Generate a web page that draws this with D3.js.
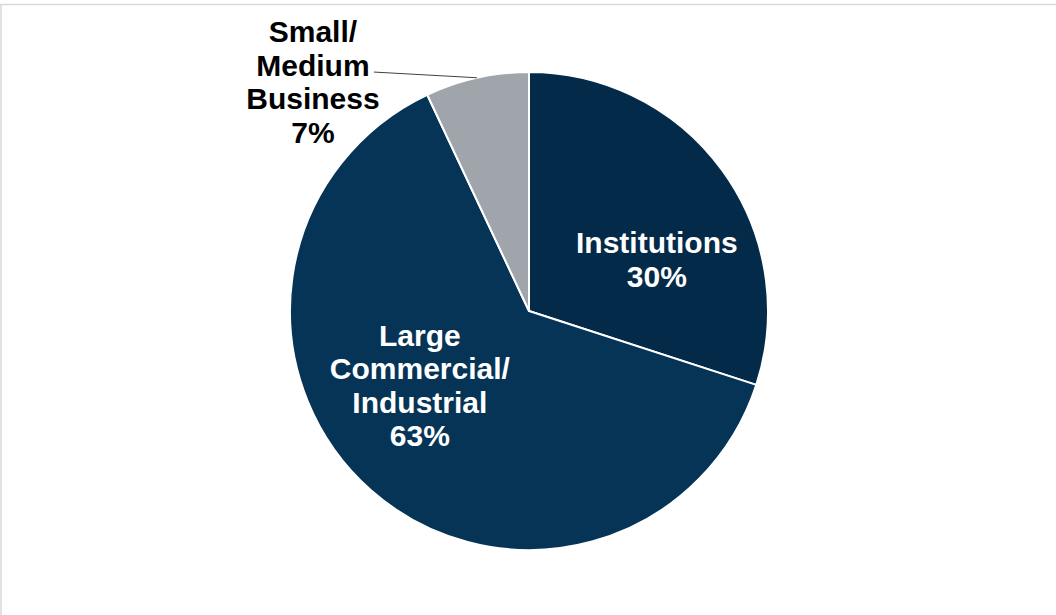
<!DOCTYPE html>
<html>
<head>
<meta charset="utf-8">
<script src="https://cdn.jsdelivr.net/npm/d3@7"></script>
<style>
  html, body { margin: 0; padding: 0; background: #ffffff; }
  svg { display: block; }
</style>
</head>
<body>
<svg id="chart" width="1056" height="615"></svg>
<script>
// Customer segments and their shares (percent)
const segments = ["Institutions", "Large Commercial/Industrial", "Small/Medium Business"];
const shares = [30, 63, 7];
const labelLines = [
  ["Institutions", "30%"],
  ["Large", "Commercial/", "Industrial", "63%"],
  ["Small/", "Medium", "Business", "7%"]
];
const colors = ["#032a48", "#063457", "#a0a5ab"];

const W = 1056, H = 615;
const cx = 529, cy = 311, radius = 239;
const fontSize = 30, lineH = 33.5;

const svg = d3.select("#chart");

// frame lines (top and left)
svg.append("line").attr("x1", 0).attr("x2", W).attr("y1", 4.5).attr("y2", 4.5)
  .attr("stroke", "#d9d9d9").attr("stroke-width", 1.5);
svg.append("line").attr("x1", 1).attr("x2", 1).attr("y1", 4).attr("y2", H)
  .attr("stroke", "#d9d9d9").attr("stroke-width", 1.5);

const data = segments.map((s, i) => ({ name: s, value: shares[i], lines: labelLines[i], color: colors[i] }));

const pie = d3.pie().value(d => d.value).sort(null);
const arc = d3.arc().innerRadius(0).outerRadius(radius);
const arcs = pie(data);

const g = svg.append("g").attr("transform", `translate(${cx},${cy})`);

g.selectAll("path.slice")
  .data(arcs)
  .join("path")
  .attr("class", "slice")
  .attr("d", arc)
  .attr("fill", d => d.data.color)
  .attr("stroke", "#ffffff")
  .attr("stroke-width", 2)
  .attr("stroke-linejoin", "round");

// label placement: polar offsets from the pie centre (angle in radians from 12 o'clock, distance)
const labelPolar = [
  { ang: 1.185, dist: 138, inside: true },
  { ang: -2.168, dist: 132, inside: true },
  { ang: -0.756, dist: 315, inside: false }
];

arcs.forEach((a, i) => {
  const p = labelPolar[i];
  const lx = Math.sin(p.ang) * p.dist;
  const ly = -Math.cos(p.ang) * p.dist;
  const n = a.data.lines.length;
  const text = g.append("text")
    .attr("text-anchor", "middle")
    .attr("font-family", "'Liberation Sans', Arial, sans-serif")
    .attr("font-weight", "bold")
    .attr("font-size", fontSize)
    .attr("fill", p.inside ? "#ffffff" : "#000000");
  a.data.lines.forEach((line, k) => {
    text.append("tspan")
      .attr("x", lx)
      .attr("y", ly + (k - (n - 1) / 2) * lineH + fontSize * 0.36)
      .text(line);
  });

  if (!p.inside) {
    // leader line from the label to the middle of the slice's outer edge
    const mid = (a.startAngle + a.endAngle) / 2;
    const ex = Math.sin(mid) * radius;
    const ey = -Math.cos(mid) * radius;
    const sx = lx + 61;
    const sy = ly + (1 - (n - 1) / 2) * lineH + 7;
    g.append("line")
      .attr("x1", sx).attr("y1", sy)
      .attr("x2", ex).attr("y2", ey)
      .attr("stroke", "#404040")
      .attr("stroke-width", 1);
  }
});
</script>
</body>
</html>
